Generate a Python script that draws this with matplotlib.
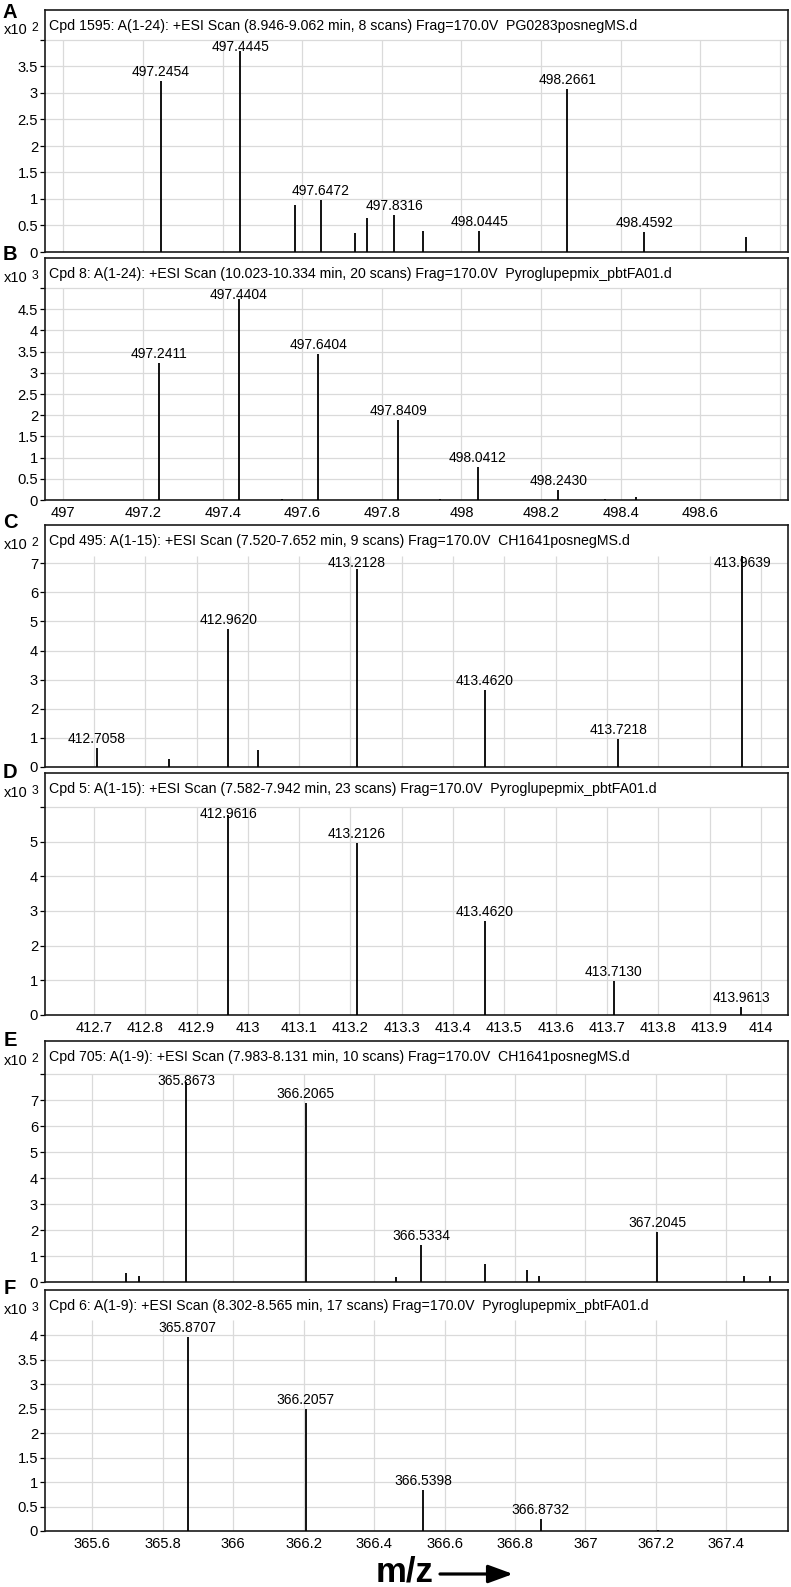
import matplotlib
matplotlib.use("Agg")
import matplotlib.pyplot as plt
import numpy as np

plt.rcParams["font.family"] = ["Liberation Sans", "DejaVu Sans"]

# ── Spectra (m/z, intensity in units of the panel's x10^n, labelled?) ─────────
a_mz = [497.2454, 497.4445, 497.5820, 497.6472, 497.7325, 497.7620,
        497.8316, 497.9040, 498.0445, 498.2661, 498.4592, 498.7140]
a_int = [3.22, 3.79, 0.88, 0.99, 0.35, 0.64, 0.70, 0.40, 0.40, 3.08, 0.37, 0.29]
a_lab = [1, 1, 0, 1, 0, 0, 1, 0, 1, 1, 1, 0]

b_mz = [497.2411, 497.4404, 497.5500, 497.6404, 497.8409, 497.9470,
        498.0412, 498.2430, 498.3600, 498.4380]
b_int = [3.24, 4.74, 0.03, 3.44, 1.89, 0.03, 0.78, 0.23, 0.03, 0.06]
b_lab = [1, 1, 0, 1, 1, 0, 1, 1, 0, 0]

c_mz = [412.7058, 412.8470, 412.9620, 413.0200, 413.2128, 413.4620,
        413.7218, 413.9639]
c_int = [0.66, 0.29, 4.74, 0.58, 6.82, 2.64, 0.96, 7.25]
c_lab = [1, 0, 1, 0, 1, 1, 1, 1]

d_mz = [412.9616, 413.2126, 413.4620, 413.7130, 413.9613]
d_int = [5.78, 4.96, 2.70, 0.99, 0.24]
d_lab = [1, 1, 1, 1, 1]

e_mz = [365.6970, 365.7330, 365.8673, 366.2065, 366.4610, 366.5334,
        366.7160, 366.8330, 366.8690, 367.2045, 367.4490, 367.5250]
e_int = [0.33, 0.23, 7.70, 6.87, 0.20, 1.42, 0.69, 0.46, 0.23, 1.93, 0.23, 0.23]
e_lab = [0, 0, 1, 1, 0, 1, 0, 0, 0, 1, 0, 0]

f_mz = [365.8707, 366.2057, 366.5398, 366.8732, 367.2060]
f_int = [3.96, 2.49, 0.84, 0.24, 0.03]
f_lab = [1, 1, 1, 1, 0]

titles = [
    "Cpd 1595: A(1-24): +ESI Scan (8.946-9.062 min, 8 scans) Frag=170.0V  PG0283posnegMS.d",
    "Cpd 8: A(1-24): +ESI Scan (10.023-10.334 min, 20 scans) Frag=170.0V  Pyroglupepmix_pbtFA01.d",
    "Cpd 495: A(1-15): +ESI Scan (7.520-7.652 min, 9 scans) Frag=170.0V  CH1641posnegMS.d",
    "Cpd 5: A(1-15): +ESI Scan (7.582-7.942 min, 23 scans) Frag=170.0V  Pyroglupepmix_pbtFA01.d",
    "Cpd 705: A(1-9): +ESI Scan (7.983-8.131 min, 10 scans) Frag=170.0V  CH1641posnegMS.d",
    "Cpd 6: A(1-9): +ESI Scan (8.302-8.565 min, 17 scans) Frag=170.0V  Pyroglupepmix_pbtFA01.d",
]
letters = ["A", "B", "C", "D", "E", "F"]
exponents = ["2", "3", "2", "3", "2", "3"]
y_tops = [4.0, 5.0, 7.25, 6.0, 8.0, 4.31]
y_steps = [0.5, 0.5, 1, 1, 1, 0.5]

ab_ticks = [497, 497.2, 497.4, 497.6, 497.8, 498, 498.2, 498.4, 498.6, 498.8]
cd_ticks = [412.7, 412.8, 412.9, 413, 413.1, 413.2, 413.3, 413.4, 413.5,
            413.6, 413.7, 413.8, 413.9, 414]
ef_ticks = [365.6, 365.8, 366, 366.2, 366.4, 366.6, 366.8, 367, 367.2, 367.4]
x_limits = [(496.954, 498.82), (412.6045, 414.053), (365.466, 367.575)]

spectra = [(a_mz, a_int, a_lab), (b_mz, b_int, b_lab), (c_mz, c_int, c_lab),
           (d_mz, d_int, d_lab), (e_mz, e_int, e_lab), (f_mz, f_int, f_lab)]
tick_sets = [ab_ticks, cd_ticks, ef_ticks]

# ── Layout (pixels) ───────────────────────────────────────────────────────────
W, H, DPI = 791, 1587, 100
X0, X1 = 45, 788
FRAME_TOP = [10, 258, 525, 773, 1041, 1290]
FRAME_BOT = [252, 500, 767, 1015, 1282, 1531]
GRID_TOP = [40, 288, 556, 807, 1074, 1320]
LETTER_Y = [13, 255, 523, 772, 1040, 1288]

GRID = "#dadada"
FS = 10.0       # peak labels
TICK_FS = 10.6  # axis tick labels
TITLE_FS = 10.2

fig = plt.figure(figsize=(W / DPI, H / DPI), dpi=DPI)
fig.patch.set_facecolor("white")

for i in range(6):
    top, bot, gtop = FRAME_TOP[i], FRAME_BOT[i], GRID_TOP[i]
    mz, inten, lab = spectra[i]
    ytop = y_tops[i]
    ppu = (bot - gtop) / ytop          # pixels per intensity unit
    xlim = x_limits[i // 2]
    xt = tick_sets[i // 2]

    ax = fig.add_axes([X0 / W, 1 - bot / H, (X1 - X0) / W, (bot - top) / H])
    ax.set_xlim(*xlim)
    ax.set_ylim(0, (bot - top) / ppu)

    # grid only inside the plotting region (below the title strip)
    yt = np.arange(0, ytop + 1e-6, y_steps[i])
    xin = [v for v in xt if xlim[0] < v < xlim[1]]
    ax.vlines(xin, 0, ytop, color=GRID, lw=0.9, zorder=1)
    ax.hlines(yt[1:], xlim[0], xlim[1], color=GRID, lw=0.9, zorder=1)

    # peaks
    ax.vlines(mz, 0, inten, color="black", lw=1.3, zorder=3)
    for x, h, flag in zip(mz, inten, lab):
        if flag:
            ly = min(h + 9 / ppu, ytop - 7 / ppu)
            ax.text(x, ly, f"{x:.4f}", ha="center", va="center",
                    fontsize=FS, zorder=4)

    # y axis
    ax.set_yticks(yt)
    ax.set_yticklabels(["" if v > ytop - 1e-6 else f"{v:g}" for v in yt])
    ax.tick_params(axis="y", direction="out", length=3.5, width=0.9,
                   labelsize=TICK_FS, pad=1.5)

    # x axis
    ax.set_xticks(xt)
    if i % 2 == 1:
        ax.set_xticklabels([f"{v:g}" if v < xlim[1] - 0.03 * (xlim[1] - xlim[0])
                            else "" for v in xt])
        ax.tick_params(axis="x", length=0, labelsize=TICK_FS, pad=4.5)
    else:
        ax.tick_params(axis="x", length=0, labelbottom=False)

    for spine in ax.spines.values():
        spine.set_edgecolor("#1a1a1a")
        spine.set_linewidth(1.2)

    # title strip, scale factor and panel letter
    fig.text(49 / W, 1 - (top + 16) / H, titles[i], fontsize=TITLE_FS,
             ha="left", va="center")
    fig.text(16 / W, 1 - (top + 20) / H, "x10", fontsize=10.5,
             ha="center", va="center")
    fig.text(35 / W, 1 - (top + 18) / H, exponents[i], fontsize=8.8,
             ha="center", va="center")
    fig.text(10 / W, 1 - LETTER_Y[i] / H, letters[i], fontsize=14.5,
             fontweight="bold", ha="center", va="center")

# ── m/z label with arrow ──────────────────────────────────────────────────────
fig.text(376 / W, 1 - 1582 / H, "m/z", fontsize=25, fontweight="bold",
         ha="left", va="baseline")
ax.annotate("", xy=(513, H - 1574), xytext=(440, H - 1574),
            xycoords="figure pixels", textcoords="figure pixels",
            annotation_clip=False,
            arrowprops=dict(arrowstyle="-|>,head_length=0.6,head_width=0.22",
                            mutation_scale=25, lw=2.3, color="black",
                            shrinkA=0, shrinkB=0))

fig.savefig("out.png", dpi=DPI, facecolor="white")
plt.close(fig)
